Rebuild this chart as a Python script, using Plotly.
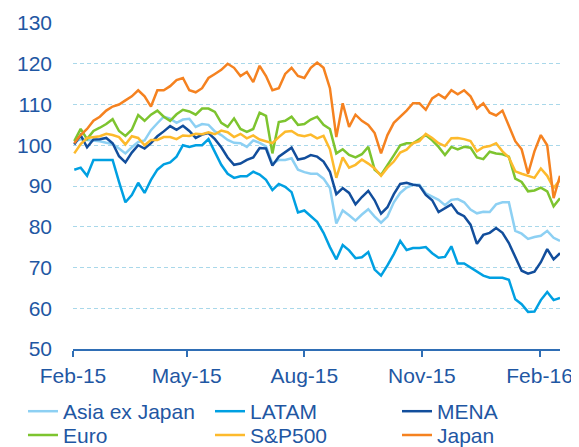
import pandas as pd
import plotly.graph_objects as go

# Sample dates (every 5 days, Feb-2015 .. Feb-2016)
dates = pd.date_range("2015-02-02", periods=77, freq="5D")

asia_ex_japan = [100.8, 101.5, 101.3, 101.2, 101, 100.6, 100.3, 99.2, 98, 99.5,
                 100.8, 101.2, 103.7, 105.4, 107, 106.5, 105.5, 106.3, 106.5, 104.5,
                 105.2, 105, 103.4, 102.5, 101.3, 100.6, 100.5, 99.6, 101.2, 100.6,
                 99.7, 95.5, 96.4, 96.4, 96.8, 94, 93.4, 93, 93, 91.8,
                 89.5, 80.8, 84, 82.8, 81.5, 83, 84.3, 82.5, 81, 82.5,
                 86, 88.3, 89.6, 90.3, 90.3, 88.2, 87.3, 86.6, 85.3, 86.6,
                 86.8, 86, 84.2, 83.3, 83.7, 83.6, 85.5, 86, 86, 79,
                 78.3, 77, 77.5, 77.8, 79, 77.3, 76.5]

latam = [94, 94.5, 92.5, 96.4, 96.4, 96.4, 96.4, 91, 86, 87.8,
         90.8, 88.3, 91.5, 94, 95.3, 95.8, 97.2, 100, 99.6, 100,
         100, 101.5, 98.5, 95.2, 93, 92, 92.4, 92.4, 93.5, 92.8,
         91.5, 89, 90.5, 89.8, 88.5, 83.5, 84, 82.5, 81.2, 78.5,
         75, 72, 75.5, 74.2, 72.3, 72.5, 73.8, 69.5, 68, 70.5,
         73.3, 76.5, 74.3, 74.8, 74.8, 75, 73.5, 72.4, 72.6, 75.2,
         71, 71, 70, 69.2, 68, 67.5, 67.5, 67.5, 67, 62.2,
         61, 59.1, 59.2, 62, 64, 62, 62.5]

mena = [100.2, 102.5, 99.5, 101.4, 101.5, 101.8, 100.5, 97.3, 95.8, 98.2,
        100, 99.2, 100.5, 102.2, 103.4, 104.7, 103.8, 104.8, 103.5, 101.8,
        102.6, 103, 101.5, 99.5, 97, 95.2, 95.5, 96.4, 97, 99.3,
        99.2, 95, 97.2, 98.4, 99.4, 96.5, 96.8, 97.6, 97.2, 96,
        93.5, 88, 89.5, 88.3, 85.5, 87.3, 88.8, 86.5, 83.2, 84.8,
        88, 90.5, 90.8, 90.3, 90.1, 87.8, 86.5, 83.6, 84.5, 85.5,
        83.4, 82.6, 80.5, 75.8, 78, 78.5, 79.7, 78.5, 76, 72.5,
        69.2, 68.5, 69, 71.3, 74.5, 72, 73.5]

euro = [101, 104, 101.5, 103.5, 104.3, 105.2, 106.4, 103.5, 102.3, 103.8,
        107.4, 106, 107.5, 108.5, 107, 106, 107.6, 108.7, 108.3, 107.5,
        109, 109, 108.2, 105.5, 104.5, 106.6, 104, 103.3, 104, 108,
        107.2, 98, 105.7, 106, 107, 105, 105.2, 106.3, 107, 105,
        104, 98, 99, 97.6, 97, 97.8, 99.6, 94, 92.7, 95,
        97.5, 100, 100.5, 100.5, 101.5, 102.5, 101.2, 99.6, 97.6, 99.6,
        99, 99.6, 99.4, 97, 96.6, 98.4, 98, 97.8, 97.2, 91.8,
        91, 88.7, 88.9, 89.6, 88.7, 85, 87]

sp500 = [98, 100.3, 101.8, 102, 102.2, 102.8, 102.5, 102, 100.2, 102.2,
         101.8, 100, 101.3, 101.3, 102, 102, 101.5, 102.4, 102.3, 102.8,
         102.7, 103.2, 102.7, 103.6, 103.2, 102, 102.8, 101.7, 102.4, 101.4,
         100.9, 100.5, 102, 103.3, 103.5, 102.5, 102.2, 102.6, 101.7, 102.3,
         99, 92, 97, 94.5, 95.2, 96.5, 95.5, 94.3, 92.5, 94.5,
         96, 98.2, 98.9, 100.5, 101, 102.8, 101.8, 100.5, 99.8, 101.7,
         101.8, 101.5, 101, 98.5, 99.5, 99.8, 100.5, 98.5, 97, 93.6,
         93, 92.5, 92, 94.3, 92.5, 89.5, 91.5]

japan = [100.5, 102.5, 104, 106, 107, 108.5, 109.5, 110, 111, 112,
         113.5, 112, 109.5, 113.5, 113.5, 114.5, 116, 116.5, 113.5, 113,
         114, 116.5, 117.5, 118.5, 120, 119, 117, 118, 115.5, 119.5,
         117, 113.5, 114, 117.5, 119, 117, 116.5, 119, 120.3, 119,
         114, 102, 110.3, 104.5, 107.5, 106, 105, 103, 98, 102.5,
         105.5, 107, 108.5, 110.3, 110.3, 108.7, 111.5, 112.5, 111.5, 113.5,
         112.5, 113.5, 112, 109, 110.3, 108, 107.3, 108.5, 104.5, 101,
         99, 93, 98.5, 102.5, 100, 87, 92.5]

series_names = ["Asia ex Japan", "LATAM", "MENA", "Euro", "S&P500", "Japan"]
series_values = [asia_ex_japan, latam, mena, euro, sp500, japan]
series_colors = ["#8DD0F3", "#00A0E2", "#124E9C", "#7DC42F", "#FDBA2C", "#F58220"]

y_ticks = [50, 60, 70, 80, 90, 100, 110, 120, 130]

TEXT = "#1F57A3"
FONT = "Liberation Sans, Arial, sans-serif"

# legend grid: 3 columns x 2 rows, one legend box per entry
legend_ids = ["legend", "legend2", "legend3", "legend4", "legend5", "legend6"]
legend_col_x = [-0.1027, 0.2813, 0.6653]
legend_row_y = [-0.129, -0.202]

fig = go.Figure()
for name, vals, col, lg in zip(series_names, series_values, series_colors, legend_ids):
    fig.add_trace(go.Scatter(x=dates, y=vals, mode="lines", name=name,
                             line=dict(color=col, width=2.5), legend=lg))

legend_layout = {}
for k, lg in enumerate(legend_ids):
    legend_layout[lg] = dict(
        orientation="h",
        xref="paper", yref="paper",
        x=legend_col_x[k % 3], y=legend_row_y[k // 3],
        xanchor="left", yanchor="top",
        font=dict(family=FONT, size=21, color=TEXT),
        bgcolor="rgba(0,0,0,0)",
    )

# page has an 8px body margin: figure is offset to compensate
fig.update_layout(
    width=579, height=447,
    margin=dict(l=65, r=27, t=15, b=106, autoexpand=False),
    paper_bgcolor="white", plot_bgcolor="white",
    font=dict(family=FONT, size=21, color=TEXT),
    showlegend=True,
    **legend_layout,
)

fig.update_xaxes(
    type="date",
    range=["2015-02-01", "2016-02-17"],
    tick0="2015-02-01", dtick="M3", tickformat="%b-%y",
    showgrid=False,
    showline=True, linecolor="#2F6EB5", linewidth=1.5,
    ticks="outside", ticklen=6, tickcolor="#2F6EB5", tickwidth=1.5,
    tickfont=dict(family=FONT, size=21, color=TEXT),
    ticklabelstandoff=1,
    zeroline=False,
)

fig.update_yaxes(
    range=[50, 130],
    tickvals=y_ticks,
    showgrid=True, gridcolor="#A9D8EA", griddash="4px,3px", gridwidth=1,
    showline=False, zeroline=False, ticks="",
    tickfont=dict(family=FONT, size=21, color=TEXT),
    ticklabelstandoff=20,
)

fig.write_html("out.html")
